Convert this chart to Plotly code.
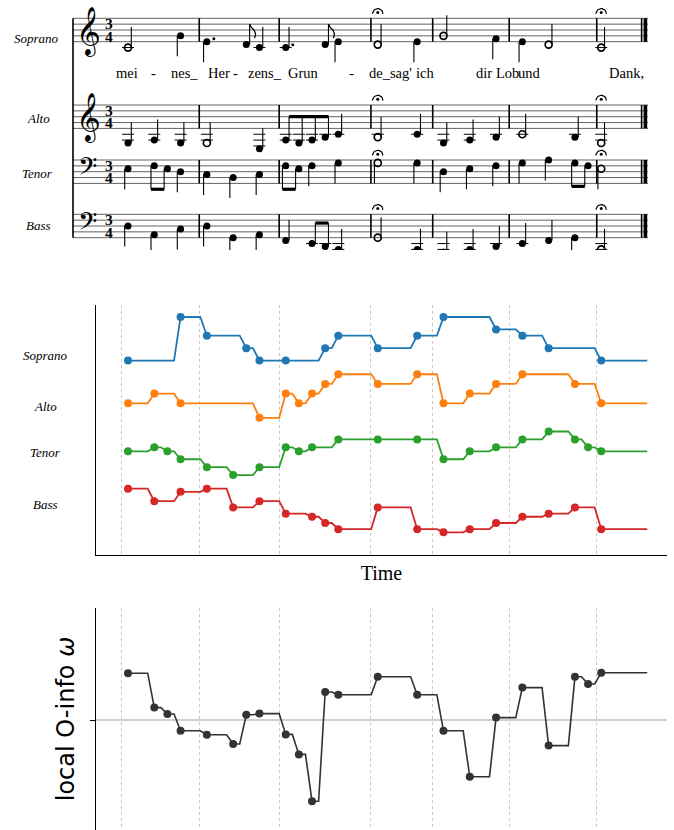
import math
import plotly.graph_objects as go

# ------------------------------------------------------------------ data
voice_names = ["Soprano", "Alto", "Tenor", "Bass"]
voice_colors = ["#1f77b4", "#ff7f0e", "#2ca02c", "#d62728"]

# note onsets (beats, quarter = 1) and pitches (MIDI-like) shown in the pitch panel
soprano_onsets = [0, 2, 3, 4.5, 5, 6, 7.5, 8, 9.5, 11, 12, 14, 15, 16, 18]
soprano_pitch = [60, 67, 64, 62, 60, 60, 62, 64, 62, 64, 67, 65, 64, 62, 60]
alto_onsets = [0, 1, 2, 5, 6, 6.5, 7, 7.5, 8, 9.5, 11, 12, 13, 14, 15, 17, 18]
alto_pitch = [55, 57, 55, 52, 57, 55, 57, 59, 61, 59, 61, 55, 57, 59, 61, 59, 55]
tenor_onsets = [0, 1, 1.5, 2, 3, 4, 5, 6, 6.5, 7, 8, 9.5, 11, 12, 13, 14, 15, 16, 17, 17.5, 18]
tenor_pitch = [59, 60, 59, 57, 55, 53, 55, 60, 59, 60, 62, 62, 62, 57, 59, 60, 62, 64, 62, 60, 59]
bass_onsets = [0, 1, 2, 3, 4, 5, 6, 7, 7.5, 8, 9.5, 11, 12, 13, 14, 15, 16, 17, 18]
bass_pitch = [49, 45, 48, 49, 43, 45, 41, 40, 38, 36, 43, 36, 35, 36, 38, 40, 41, 43, 36]
piece_end = 20.0

# local O-information at each event
event_onsets = [0, 1, 1.5, 2, 3, 4, 4.5, 5, 6, 6.5, 7, 7.5, 8, 9.5, 11, 12, 13, 14, 15, 16, 17, 17.5, 18]
o_info = [1.17, 0.31, 0.15, -0.27, -0.37, -0.60, 0.13, 0.16, -0.36, -0.86, -2.03, 0.70,
          0.63, 1.08, 0.63, -0.27, -1.42, 0.06, 0.81, -0.64, 1.08, 0.90, 1.18]

# bar lines (beats) used for grid lines and the score
bar_lines = [-0.23, 2.71, 5.75, 9.24, 11.59, 14.50, 17.83]
final_bar = 19.62
fermata_onsets = [9.5, 18]

# score transcription
soprano_score_notes = ["C4", "G4", "E4", "D4", "C4", "C4", "D4", "E4", "D4", "E4", "G4", "F4", "E4", "D4", "C4"]
soprano_score_durs = [2, 1, 1.5, 0.5, 1, 1.5, 0.5, 1, 2, 1, 2, 1, 1, 2, 2]
soprano_score_stems = [1, -1, -1, 1, 1, 1, 1, -1, 1, -1, 1, -1, -1, 1, 1]

alto_score_onsets = [0, 1, 2, 3, 5, 6, 6.5, 7, 7.5, 8, 9.5, 11, 12, 13, 14, 15, 17, 18]
alto_score_notes = ["G3", "A3", "G3", "G3", "E3", "A3", "G3", "A3", "B3", "C4", "B3", "C4",
                    "G3", "A3", "B3", "C4", "B3", "G3"]
alto_score_durs = [1, 1, 1, 2, 1, 0.5, 0.5, 0.5, 0.5, 1, 2, 1, 1, 1, 1, 2, 1, 2]
alto_score_stems = [1] * 18

tenor_score_notes = ["E3", "F3", "E3", "D3", "C3", "B2", "C3", "F3", "E3", "F3", "G3", "G3", "G3",
                     "D3", "E3", "F3", "G3", "A3", "G3", "F3", "E3"]
tenor_score_durs = [1, 0.5, 0.5, 1, 1, 1, 1, 0.5, 0.5, 1, 1, 2, 1, 1, 1, 1, 1, 1, 0.5, 0.5, 2]
tenor_score_stems = [-1] * 21

bass_score_notes = ["D3", "A2", "C3", "D3", "G2", "A2", "F2", "E2", "D2", "C2", "G2", "C2",
                    "B1", "C2", "D2", "E2", "F2", "G2", "C2"]
bass_score_durs = [1, 1, 1, 1, 1, 1, 1, 0.5, 0.5, 1, 2, 1, 1, 1, 1, 1, 1, 1, 2]
bass_score_stems = [-1, -1, -1, -1, -1, -1, 1, 1, 1, 1, 1, 1, 1, 1, 1, 1, 1, -1, 1]

lyrics = ["mei", "-", "nes_", "Her", "-", "zens_", "Grun", "-", "de_sag'", "ich",
          "dir", "Lob", "und", "Dank,"]

# ------------------------------------------------------------------ layout constants
W, H = 674, 830
X0, K = 128.0, 26.29          # pixel of beat 0, pixels per beat


def b(px):
    return (px - X0) / K


STEP = 2.925                   # half staff space (px)
staff_mid = [30.0, 116.7, 171.7, 226.0]
staff_clef = ["treble", "treble", "bass", "bass"]
bottom_diat = {"treble": 30, "bass": 18}
STAFF_X0, STAFF_X1 = 73.0, 648.0
lyric_x = [126.7, 153.3, 184, 219, 235, 265, 303, 351.7, 390, 425, 484, 507.5, 529, 626.5]
LYRIC_Y = 72.7
score_label_pos = [(36.7, 38.3), (38.5, 118.3), (37.5, 173.3), (38.3, 226.0)]
plot_label_y = [355.7, 406.0, 452.0, 504.3]

fig = go.Figure()

# ------------------------------------------------------------------ score panel
def diat(name):
    return "CDEFGAB".index(name[0]) + 7 * int(name[1:])


seg = {k: ([], []) for k in ["staff", "bar", "stem", "ledger", "beam", "flag", "ferm", "thick"]}


def add_seg(kind, xs, ys):
    seg[kind][0].extend(list(xs) + [None])
    seg[kind][1].extend(list(ys) + [None])


filled_x, filled_y, open_x, open_y, dot_x, dot_y = [], [], [], [], [], []

score_voices = [
    (soprano_onsets, soprano_score_notes, soprano_score_durs, soprano_score_stems),
    (alto_score_onsets, alto_score_notes, alto_score_durs, alto_score_stems),
    (tenor_onsets, tenor_score_notes, tenor_score_durs, tenor_score_stems),
    (bass_onsets, bass_score_notes, bass_score_durs, bass_score_stems),
]

for vi, (ons, notes, durs, stems) in enumerate(score_voices):
    mid = staff_mid[vi]
    bottom = mid + 4 * STEP
    top = mid - 4 * STEP
    for li in range(5):
        yy = bottom - 2 * li * STEP
        add_seg("staff", [b(STAFF_X0), b(STAFF_X1)], [yy, yy])
    for bl in bar_lines[1:]:
        add_seg("bar", [bl, bl], [top, bottom])
    add_seg("bar", [final_bar - 2.2 / K, final_bar - 2.2 / K], [top, bottom])
    add_seg("thick", [final_bar + 1.6 / K, final_bar + 1.6 / K], [top, bottom])

    ys = []
    for t, n, d, s in zip(ons, notes, durs, stems):
        st = diat(n) - bottom_diat[staff_clef[vi]]
        y = bottom - st * STEP
        ys.append(y)
        if d >= 2:
            open_x.append(t); open_y.append(y)
        else:
            filled_x.append(t); filled_y.append(y)
        for ls in range(-2, st - 1, -2):
            ly = bottom - ls * STEP
            add_seg("ledger", [t - 6 / K, t + 6 / K], [ly, ly])
        for ls in range(10, st + 1, 2):
            ly = bottom - ls * STEP
            add_seg("ledger", [t - 6 / K, t + 6 / K], [ly, ly])
        if d in (1.5, 3):
            dy = y - STEP if st % 2 == 0 else y
            dot_x.append(t + 7 / K); dot_y.append(dy)

    i = 0
    n_notes = len(ons)
    while i < n_notes:
        if durs[i] == 0.5:
            j = i
            while j + 1 < n_notes and durs[j + 1] == 0.5 and stems[j + 1] == stems[i]:
                j += 1
            if j > i:
                s = stems[i]
                group_y = ys[i:j + 1]
                by = (min(group_y) - 20.5) if s > 0 else (max(group_y) + 20.5)
                sx_list = []
                for k2 in range(i, j + 1):
                    sx = ons[k2] + s * 3.3 / K
                    sx_list.append(sx)
                    add_seg("stem", [sx, sx], [ys[k2], by])
                add_seg("beam", [sx_list[0], sx_list[-1]], [by, by])
                i = j + 1
                continue
        s = stems[i]
        sx = ons[i] + s * 3.3 / K
        ey = ys[i] - 20.5 * s
        add_seg("stem", [sx, sx], [ys[i], ey])
        if durs[i] == 0.5:
            fx = [0, 1.5, 4.5, 6, 5]
            fy = [0, 3, 6, 10, 14]
            add_seg("flag", [sx + v / K for v in fx], [ey + s * v for v in fy])
        i += 1

    for fo in fermata_onsets:
        cy = top - 4.5
        xs = [fo + 5.2 * math.cos(math.pi * k3 / 16) / K for k3 in range(17)]
        yy = [cy - 5.2 * math.sin(math.pi * k3 / 16) for k3 in range(17)]
        add_seg("ferm", xs, yy)
        dot_x.append(fo); dot_y.append(cy - 1.3)

add_seg("bar", [b(STAFF_X0), b(STAFF_X0)], [staff_mid[0] - 4 * STEP, staff_mid[3] + 4 * STEP])

seg_width = {"staff": 0.8, "bar": 1.6, "stem": 1.1, "ledger": 1.0, "beam": 3.2, "flag": 1.3,
             "ferm": 1.2, "thick": 3.6}
for kind, (xs, ys) in seg.items():
    fig.add_trace(go.Scatter(x=xs, y=ys, mode="lines", xaxis="x", yaxis="y",
                             line=dict(color="black" if kind != "staff" else "#3a3a3a",
                                       width=seg_width[kind]),
                             hoverinfo="skip", showlegend=False))

fig.add_trace(go.Scatter(x=filled_x, y=filled_y, mode="markers", xaxis="x", yaxis="y",
                         marker=dict(symbol="circle", size=7, color="black"),
                         hoverinfo="skip", showlegend=False))
fig.add_trace(go.Scatter(x=open_x, y=open_y, mode="markers", xaxis="x", yaxis="y",
                         marker=dict(symbol="circle-open", size=7, color="black",
                                     line=dict(width=1.7, color="black")),
                         hoverinfo="skip", showlegend=False))
fig.add_trace(go.Scatter(x=dot_x, y=dot_y, mode="markers", xaxis="x", yaxis="y",
                         marker=dict(symbol="circle", size=3, color="black"),
                         hoverinfo="skip", showlegend=False))

annotations = []


def ann(**kw):
    kw.setdefault("showarrow", False)
    kw.setdefault("xanchor", "center")
    kw.setdefault("yanchor", "middle")
    annotations.append(kw)


for vi in range(4):
    mid = staff_mid[vi]
    if staff_clef[vi] == "treble":
        ann(x=b(88), y=mid + 1, xref="x", yref="y", text="\U0001D11E",
            font=dict(size=42, color="black", family="DejaVu Sans, Noto Sans, serif"))
    else:
        ann(x=b(87), y=mid - 2, xref="x", yref="y", text="\U0001D122",
            font=dict(size=30, color="black", family="DejaVu Sans, Noto Sans, serif"))
    for dy, digit in ((-2 * STEP - 0.4, "3"), (2 * STEP + 0.4, "4")):
        ann(x=b(108.5), y=mid + dy, xref="x", yref="y", text="<b>%s</b>" % digit,
            font=dict(size=15.5, color="black", family="Liberation Serif"))
    lx, ly = score_label_pos[vi]
    ann(x=lx / W, y=1 - ly / H, xref="paper", yref="paper",
        text="<i>%s</i>" % voice_names[vi],
        font=dict(size=13, color="black", family="Liberation Serif"))

for word, lx in zip(lyrics, lyric_x):
    ann(x=lx / W, y=1 - LYRIC_Y / H, xref="paper", yref="paper", text=word,
        font=dict(size=14.5, color="black", family="Liberation Serif"))

# ------------------------------------------------------------------ pitch panel
SPACING = 57.1 / 43.5
voice_data = [(soprano_onsets, soprano_pitch), (alto_onsets, alto_pitch),
              (tenor_onsets, tenor_pitch), (bass_onsets, bass_pitch)]
RAMP = 0.25


def ramp_path(onsets, vals, end):
    xs, ys = [], []
    for i, (t, v) in enumerate(zip(onsets, vals)):
        nxt = onsets[i + 1] if i + 1 < len(onsets) else end
        xs += [t, nxt - RAMP]
        ys += [v, v]
    return xs, ys


for vi, (ons, pit) in enumerate(voice_data):
    lo, hi = min(pit), max(pit)
    offset = (3 - vi) * SPACING
    yv = [offset + (p - lo) / (hi - lo) for p in pit]
    lx, ly = ramp_path(ons, yv, piece_end)
    fig.add_trace(go.Scatter(x=lx, y=ly, mode="lines", xaxis="x2", yaxis="y2",
                             line=dict(color=voice_colors[vi], width=1.8),
                             hoverinfo="skip", showlegend=False))
    fig.add_trace(go.Scatter(x=ons, y=yv, mode="markers", xaxis="x2", yaxis="y2",
                             marker=dict(color=voice_colors[vi], size=8),
                             name=voice_names[vi], showlegend=False))
    ann(x=45 / W, y=1 - plot_label_y[vi] / H, xref="paper", yref="paper",
        text="<i>%s</i>" % voice_names[vi],
        font=dict(size=13, color="black", family="Liberation Serif"))

# ------------------------------------------------------------------ O-info panel
ox, oy = ramp_path(event_onsets, o_info, piece_end)
fig.add_trace(go.Scatter(x=ox, y=oy, mode="lines", xaxis="x3", yaxis="y3",
                         line=dict(color="#333333", width=1.6),
                         hoverinfo="skip", showlegend=False))
fig.add_trace(go.Scatter(x=event_onsets, y=o_info, mode="markers", xaxis="x3", yaxis="y3",
                         marker=dict(color="#333333", size=8),
                         name="local O-info", showlegend=False))

# ------------------------------------------------------------------ axes
plot_dom = [96 / W, 667 / W]
plot_rng = [b(96), b(667)]
grid_common = dict(tickvals=bar_lines, showgrid=True, griddash="dot", gridcolor="#c8c8c8",
                   gridwidth=1, ticks="", showticklabels=False, zeroline=False, automargin=False)

fig.update_layout(
    width=W, height=H,
    margin=dict(l=0, r=0, t=0, b=0, autoexpand=False),
    paper_bgcolor="white", plot_bgcolor="white",
    showlegend=False,
    annotations=annotations,
    xaxis=dict(domain=[0, 1], range=[b(0), b(W)], visible=False, anchor="y", automargin=False),
    yaxis=dict(domain=[1 - 250 / H, 1], range=[250, 0], visible=False, anchor="x", automargin=False),
    xaxis2=dict(domain=plot_dom, range=plot_rng, anchor="y2",
                showline=True, linecolor="black", linewidth=1.3,
                title=dict(text="Time", standoff=10,
                           font=dict(size=20, color="black", family="Liberation Serif")),
                **grid_common),
    yaxis2=dict(domain=[1 - 555 / H, 1 - 305 / H], range=[-0.52, 5.213], anchor="x2",
                showline=True, linecolor="black", linewidth=1.3, showgrid=False,
                showticklabels=False, ticks="", zeroline=False, automargin=False),
    xaxis3=dict(domain=plot_dom, range=plot_rng, anchor="y3", showline=False, **grid_common),
    yaxis3=dict(domain=[0, 1 - 608 / H], range=[-2.75, 2.8], anchor="x3",
                showline=True, linecolor="black", linewidth=1.3, showgrid=False,
                zeroline=True, zerolinecolor="#d0d0d0", zerolinewidth=1.5,
                tickvals=[0], ticks="outside", ticklen=5, tickcolor="black", tickwidth=1.2,
                showticklabels=False, automargin=False,
                title=dict(text="local O-info <i>ω</i>", standoff=8,
                           font=dict(size=24, color="black", family="DejaVu Sans"))),
)

fig.write_html("out.html", config={"displayModeBar": False},
               post_script="document.body.style.margin='0px';")
